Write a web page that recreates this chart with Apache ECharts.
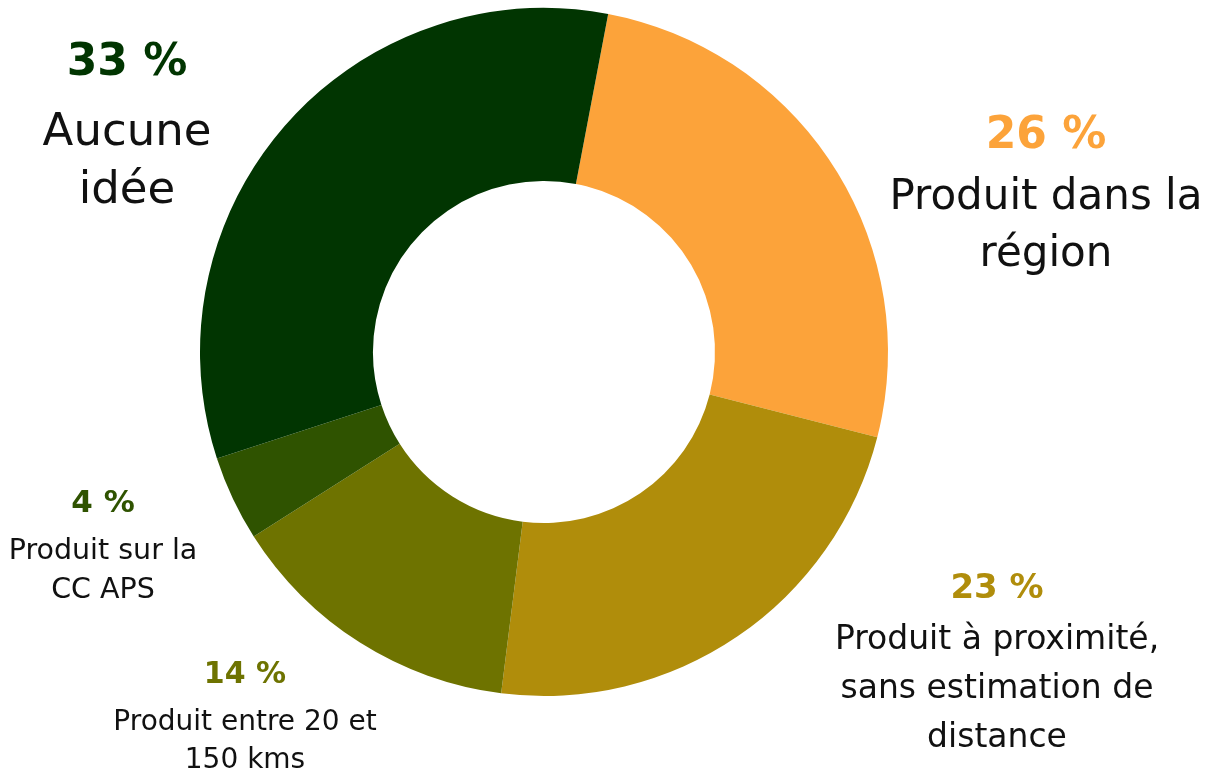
<!DOCTYPE html>
<html><head><meta charset="utf-8">
<script src="https://cdn.jsdelivr.net/npm/echarts@6/dist/echarts.min.js"></script>
<style>html,body{margin:0;padding:0;background:#fff}#c{width:1208px;height:772px}</style>
</head><body><div id="c"></div>
<script>
const categories = ["Produit dans la\nrégion", "Produit à proximité,\nsans estimation de\ndistance", "Produit entre 20 et\n150 kms", "Produit sur la\nCC APS", "Aucune\nidée"];
const values = [26, 23, 14, 4, 33];
const colors = ["#FCA33A", "#B08D0B", "#6E7300", "#2F5300", "#013501"];

// label layout (center x, top y) and typography per slice
const labelPos = [[1046, 103], [997, 563], [245, 646], [103, 475], [127, 24]];
const pctSize = [44, 34, 30, 31, 44];
const pctLH = [67, 53, 58, 57, 80];
const nameSize = [42, 33, 28, 28.5, 45];
const nameLH = [57, 49, 38, 39, 58];

const rich = {};
values.forEach((v, i) => {
  rich['p' + i] = {fontFamily: 'DejaVu Sans', fontWeight: 'bold', fontSize: pctSize[i], lineHeight: pctLH[i], color: colors[i], align: 'center'};
  rich['n' + i] = {fontFamily: 'DejaVu Sans', fontSize: nameSize[i], lineHeight: nameLH[i], color: '#111111', align: 'center'};
});

const chart = echarts.init(document.getElementById('c'), null, {renderer: 'canvas'});
chart.setOption({
  animation: false,
  backgroundColor: '#ffffff',
  series: [{
    type: 'pie',
    center: [544, 352],
    radius: [171, 344],
    startAngle: 79.25,
    clockwise: true,
    avoidLabelOverlap: false,
    data: categories.map((c, i) => ({name: c, value: values[i], itemStyle: {color: colors[i]}})),
    label: {
      show: true,
      position: 'outside',
      formatter: p => {
        const i = p.dataIndex;
        return '{p' + i + '|' + values[i] + ' %}\n' + categories[i].split('\n').map(l => '{n' + i + '|' + l + '}').join('\n');
      },
      rich: rich
    },
    labelLine: {show: false},
    labelLayout: p => ({x: labelPos[p.dataIndex][0], y: labelPos[p.dataIndex][1], align: 'center', verticalAlign: 'top'})
  }]
});
</script></body></html>
